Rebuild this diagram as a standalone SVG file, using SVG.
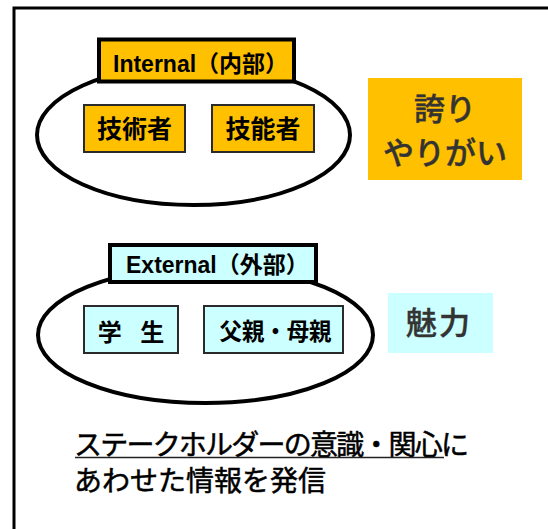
<svg xmlns="http://www.w3.org/2000/svg" width="548" height="529" viewBox="0 0 548 529">
<style>
text{font-family:"Liberation Sans","Noto Sans CJK JP",sans-serif;}
.ell{fill:none;stroke:#000;stroke-width:4;}
.hdr{stroke:#000;stroke-width:4;}
.inner{stroke:#2a2a2a;stroke-width:2;}
.org{fill:#FFC000;}
.cyn{fill:#CCFFFF;}
.hlab{font-size:23px;font-weight:bold;fill:#000;}
.ilab{font-weight:bold;fill:#000;text-anchor:middle;}
.big{font-size:31px;font-weight:500;fill:#333;stroke:#333;stroke-width:0.4px;text-anchor:middle;}
.note{font-size:28px;fill:#000;stroke:#000;stroke-width:0.5px;}
</style>
<rect x="14" y="8" width="600" height="600" fill="none" stroke="#000" stroke-width="3"/>
<g id="internal">
  <ellipse class="ell" cx="193.5" cy="135" rx="156.5" ry="70"/>
  <g id="internal-label">
    <rect class="hdr org" x="99" y="39.5" width="195" height="42"/>
    <text class="hlab" x="113" y="72">Internal（内部）</text>
  </g>
  <g id="gijutsusha">
    <rect class="inner org" x="84" y="105" width="101" height="47"/>
    <text class="ilab" x="134.5" y="138" font-size="25">技術者</text>
  </g>
  <g id="ginousha">
    <rect class="inner org" x="212" y="105" width="102" height="47"/>
    <text class="ilab" x="263" y="138" font-size="25">技能者</text>
  </g>
</g>
<g id="pride">
  <rect class="org" x="368" y="78" width="154" height="102"/>
  <text class="big" x="445" y="120">誇り</text>
  <text class="big" x="445" y="164">やりがい</text>
</g>
<g id="external">
  <ellipse class="ell" cx="205.5" cy="335" rx="167.5" ry="68"/>
  <g id="external-label">
    <rect class="hdr cyn" x="110" y="245" width="206" height="37"/>
    <text class="hlab" x="126" y="273">External（外部）</text>
  </g>
  <g id="gakusei">
    <rect class="inner cyn" x="84" y="306" width="94" height="47"/>
    <text class="ilab" x="131" y="340.5" font-size="24" word-spacing="12">学 生</text>
  </g>
  <g id="oya">
    <rect class="inner cyn" x="204" y="306" width="139" height="47"/>
    <text class="ilab" x="275.5" y="340" font-size="24" textLength="112" lengthAdjust="spacingAndGlyphs">父親・母親</text>
  </g>
</g>
<g id="miryoku">
  <rect class="cyn" x="388" y="293" width="105" height="60"/>
  <text class="big" x="439" y="334" letter-spacing="2">魅力</text>
</g>
<g id="message">
  <text class="note" x="74" y="455" textLength="395" lengthAdjust="spacing">ステークホルダーの意識・関心に</text>
  <line x1="75" y1="457.5" x2="444" y2="457.5" stroke="#222" stroke-width="1.5"/>
  <text class="note" x="74" y="491">あわせた情報を発信</text>
</g>
<g id="connectors"/>
</svg>
